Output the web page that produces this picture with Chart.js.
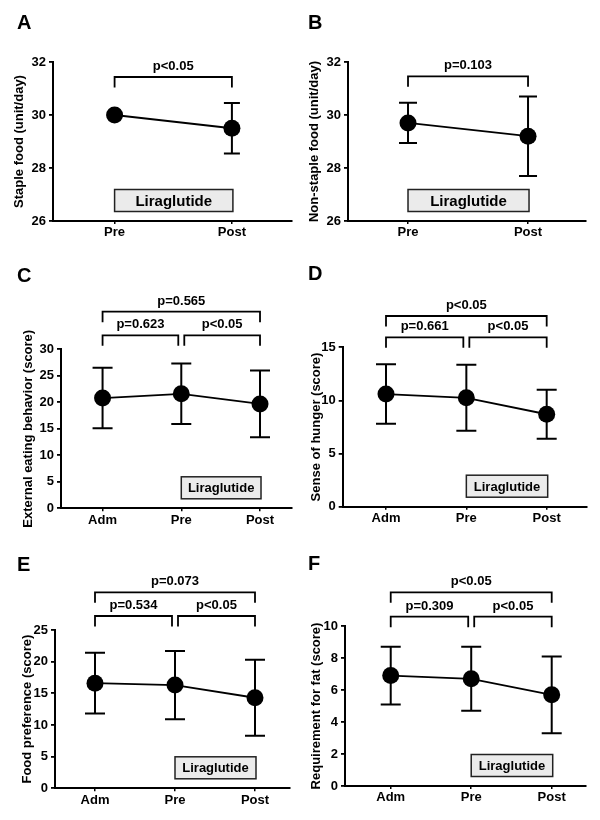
<!DOCTYPE html>
<html><head><meta charset="utf-8">
<script src="https://cdn.jsdelivr.net/npm/chart.js@4/dist/chart.umd.min.js"></script>
<style>
html,body{margin:0;padding:0;background:#fff;}
#wrap{position:relative;width:600px;height:820px;overflow:hidden;}
canvas{position:absolute;}
.letter{position:absolute;font:bold 20px "Liberation Sans",Arial,sans-serif;line-height:20px;color:#000;}
</style></head><body>
<div id="wrap"></div>
<script>
// ---------- DATA ----------
const prePostLabels = ['Pre', 'Post'];
const threeLabels = ['Adm', 'Pre', 'Post'];

const stapleMean = [30.0, 29.5];
const stapleSD = [0.0, 0.95];
const nonStapleMean = [29.7, 29.2];
const nonStapleSD = [0.76, 1.5];
const externalMean = [20.8, 21.6, 19.7];
const externalSD = [5.7, 5.7, 6.3];
const hungerMean = [10.6, 10.25, 8.7];
const hungerSD = [2.8, 3.1, 2.3];
const foodPrefMean = [16.6, 16.3, 14.3];
const foodPrefSD = [4.8, 5.4, 6.0];
const fatMean = [6.9, 6.7, 5.7];
const fatSD = [1.8, 2.0, 2.4];

const pairs2 = [[0, 1]];
const pairs3 = [[0, 1], [1, 2], [0, 2]];
const pA = ['p<0.05'];
const pB = ['p=0.103'];
const pC = ['p=0.623', 'p<0.05', 'p=0.565'];
const pD = ['p=0.661', 'p<0.05', 'p<0.05'];
const pE = ['p=0.534', 'p<0.05', 'p=0.073'];
const pF = ['p=0.309', 'p<0.05', 'p<0.05'];

const yTitles = ['Staple food (unit/day)', 'Non-staple food (unit/day)',
  'External eating behavior (score)', 'Sense of hunger (score)',
  'Food preference (score)', 'Requirement for fat (score)'];
const yRanges = [[26, 32, 2], [26, 32, 2], [0, 30, 5], [0, 15, 5], [0, 25, 5], [0, 10, 2]];
const boxLabel = 'Liraglutide';
const panelLetters = ['A', 'B', 'C', 'D', 'E', 'F'];

// ---------- LAYOUT (positions / sizes only) ----------
const FONT = '"Liberation Sans", Arial, Helvetica, sans-serif';
const layouts = [
  {x:0,   y:0,   w:300, h:260, L:53,   R:293,   top:62,   bottom:221,   titleX:19, xMin:-0.525, xMax:1.508, letter:[17,12],  levels:[15],          cap:8,  boxFont:15},
  {x:300, y:0,   w:300, h:260, L:48,   R:286,   top:62,   bottom:221,   titleX:14, xMin:-0.5,   xMax:1.483, letter:[8,12],   levels:[14.3],        cap:9,  boxFont:15},
  {x:0,   y:260, w:300, h:280, L:61,   R:294,   top:89.3, bottom:248.3, titleX:28, xMin:-0.528, xMax:2.40,  letter:[17,4.5], levels:[-14, -37.6],  cap:10, boxFont:13},
  {x:300, y:260, w:300, h:280, L:42.7, R:286.7, top:87.3, bottom:246.7, titleX:16, xMin:-0.539, xMax:2.498, letter:[8,2.5], levels:[-10, -31.3],  cap:10, boxFont:13},
  {x:0,   y:540, w:300, h:280, L:55,   R:290,   top:90,   bottom:248.3, titleX:27, xMin:-0.5,   xMax:2.4375,letter:[17,14],  levels:[-14, -37.7],  cap:10, boxFont:13},
  {x:300, y:540, w:300, h:280, L:45,   R:286,   top:86,   bottom:246,   titleX:16, xMin:-0.568, xMax:2.426, letter:[8,12.5], levels:[-9.3, -33.7], cap:10, boxFont:13}
];

const panels = [
  {labels: prePostLabels, mean: stapleMean, sd: stapleSD, pairs: pairs2, p: pA},
  {labels: prePostLabels, mean: nonStapleMean, sd: nonStapleSD, pairs: pairs2, p: pB},
  {labels: threeLabels, mean: externalMean, sd: externalSD, pairs: pairs3, p: pC},
  {labels: threeLabels, mean: hungerMean, sd: hungerSD, pairs: pairs3, p: pD},
  {labels: threeLabels, mean: foodPrefMean, sd: foodPrefSD, pairs: pairs3, p: pE},
  {labels: threeLabels, mean: fatMean, sd: fatSD, pairs: pairs3, p: pF}
];

const annot = {
  id: 'annot',
  beforeDatasetsDraw(chart, args, opts) {
    const {ctx, scales: {x, y}} = chart;
    const pn = opts.panel, lay = opts.lay;
    ctx.save();
    ctx.strokeStyle = '#000';
    ctx.lineWidth = 2;
    pn.mean.forEach((m, i) => {
      const s = pn.sd[i];
      if (!s) return;
      const px = x.getPixelForValue(i);
      const yt = y.getPixelForValue(m + s), yb = y.getPixelForValue(m - s);
      ctx.beginPath();
      ctx.moveTo(px, yt); ctx.lineTo(px, yb);
      ctx.moveTo(px - lay.cap, yt); ctx.lineTo(px + lay.cap, yt);
      ctx.moveTo(px - lay.cap, yb); ctx.lineTo(px + lay.cap, yb);
      ctx.stroke();
    });
    ctx.restore();
  },
  afterDraw(chart, args, opts) {
    const {ctx, chartArea, scales: {x, y}} = chart;
    const pn = opts.panel, lay = opts.lay;
    ctx.save();
    ctx.strokeStyle = '#000';
    ctx.fillStyle = '#000';
    ctx.lineWidth = 1.8;
    ctx.font = 'bold 13px ' + FONT;
    ctx.textAlign = 'center';
    ctx.textBaseline = 'alphabetic';
    const n = pn.labels.length;
    pn.pairs.forEach((pr, k) => {
      const lvl = pn.pairs.length === 1 ? lay.levels[0] : (k < 2 ? lay.levels[0] : lay.levels[1]);
      const top = chartArea.top + lvl;
      let x1 = x.getPixelForValue(pr[0]);
      let x2 = x.getPixelForValue(pr[1]);
      if (pn.pairs.length > 1 && k < 2) {
        if (pr[1] === 1) x2 -= 3;
        if (pr[0] === 1) x1 += 3;
      }
      ctx.beginPath();
      ctx.moveTo(x1, top + 10.5); ctx.lineTo(x1, top); ctx.lineTo(x2, top); ctx.lineTo(x2, top + 10.5);
      ctx.stroke();
      ctx.fillText(pn.p[k], (x1 + x2) / 2, top - 7);
    });
    // Liraglutide box
    const bx1 = x.getPixelForValue(n - 2), bx2 = x.getPixelForValue(n - 1) + 1;
    const bb = chartArea.bottom - 9.5, bt = bb - 22;
    ctx.fillStyle = '#ebebeb';
    ctx.fillRect(bx1, bt, bx2 - bx1, bb - bt);
    ctx.strokeStyle = '#222';
    ctx.lineWidth = 1.5;
    ctx.strokeRect(bx1, bt, bx2 - bx1, bb - bt);
    ctx.fillStyle = '#000';
    ctx.font = 'bold ' + lay.boxFont + 'px ' + FONT;
    ctx.textBaseline = 'middle';
    ctx.fillText(boxLabel, (bx1 + bx2) / 2, (bt + bb) / 2 + 1);
    ctx.restore();
  }
};

const wrap = document.getElementById('wrap');
panels.forEach((pn, idx) => {
  const lay = layouts[idx];
  const cv = document.createElement('canvas');
  cv.width = lay.w; cv.height = lay.h;
  cv.style.left = lay.x + 'px'; cv.style.top = lay.y + 'px';
  cv.style.width = lay.w + 'px'; cv.style.height = lay.h + 'px';
  wrap.appendChild(cv);
  const lt = document.createElement('div');
  lt.className = 'letter';
  lt.textContent = panelLetters[idx];
  lt.style.left = (lay.x + lay.letter[0]) + 'px';
  lt.style.top = (lay.y + lay.letter[1]) + 'px';
  wrap.appendChild(lt);

  const padLeft = lay.titleX - 7.8;
  const [ymin, ymax, ystep] = yRanges[idx];
  new Chart(cv, {
    type: 'line',
    data: {
      datasets: [{
        data: pn.mean.map((m, i) => ({x: i, y: m})),
        borderColor: '#000',
        borderWidth: 1.8,
        backgroundColor: '#000',
        pointBackgroundColor: '#000',
        pointBorderColor: '#000',
        pointBorderWidth: 0,
        pointRadius: 8.5,
        pointHoverRadius: 8.5,
        tension: 0,
        clip: false
      }]
    },
    options: {
      responsive: false,
      animation: false,
      devicePixelRatio: 1,
      events: [],
      layout: {padding: {left: padLeft, right: lay.w - lay.R, top: lay.top, bottom: 0}},
      plugins: {legend: {display: false}, tooltip: {enabled: false}, annot: {panel: pn, lay: lay}},
      scales: {
        x: {
          type: 'linear',
          min: lay.xMin, max: lay.xMax,
          afterFit: (s) => { s.height = lay.h - lay.bottom; },
          afterBuildTicks: (s) => { s.ticks = pn.labels.map((l, i) => ({value: i})); },
          grid: {display: true, drawOnChartArea: false, drawTicks: true, tickLength: 3, color: '#000', lineWidth: 1.5},
          border: {display: true, color: '#000', width: 2},
          ticks: {
            autoSkip: false, maxRotation: 0, padding: 1, color: '#000',
            font: {family: FONT, size: 13, weight: 'bold'},
            callback: (v) => pn.labels[v]
          }
        },
        y: {
          type: 'linear',
          min: ymin, max: ymax,
          afterFit: (s) => { s.width = lay.L - padLeft; },
          grid: {display: true, drawOnChartArea: false, drawTicks: true, tickLength: 4, color: '#000', lineWidth: 1.8},
          border: {display: true, color: '#000', width: 2},
          ticks: {
            stepSize: ystep, padding: 3, color: '#000',
            font: {family: FONT, size: 13, weight: 'bold'}
          },
          title: {
            display: true, text: yTitles[idx], color: '#000',
            padding: {top: 0, bottom: 0},
            font: {family: FONT, size: 13, weight: 'bold', lineHeight: 1.2}
          }
        }
      }
    },
    plugins: [annot]
  });
});
</script>
</body></html>
